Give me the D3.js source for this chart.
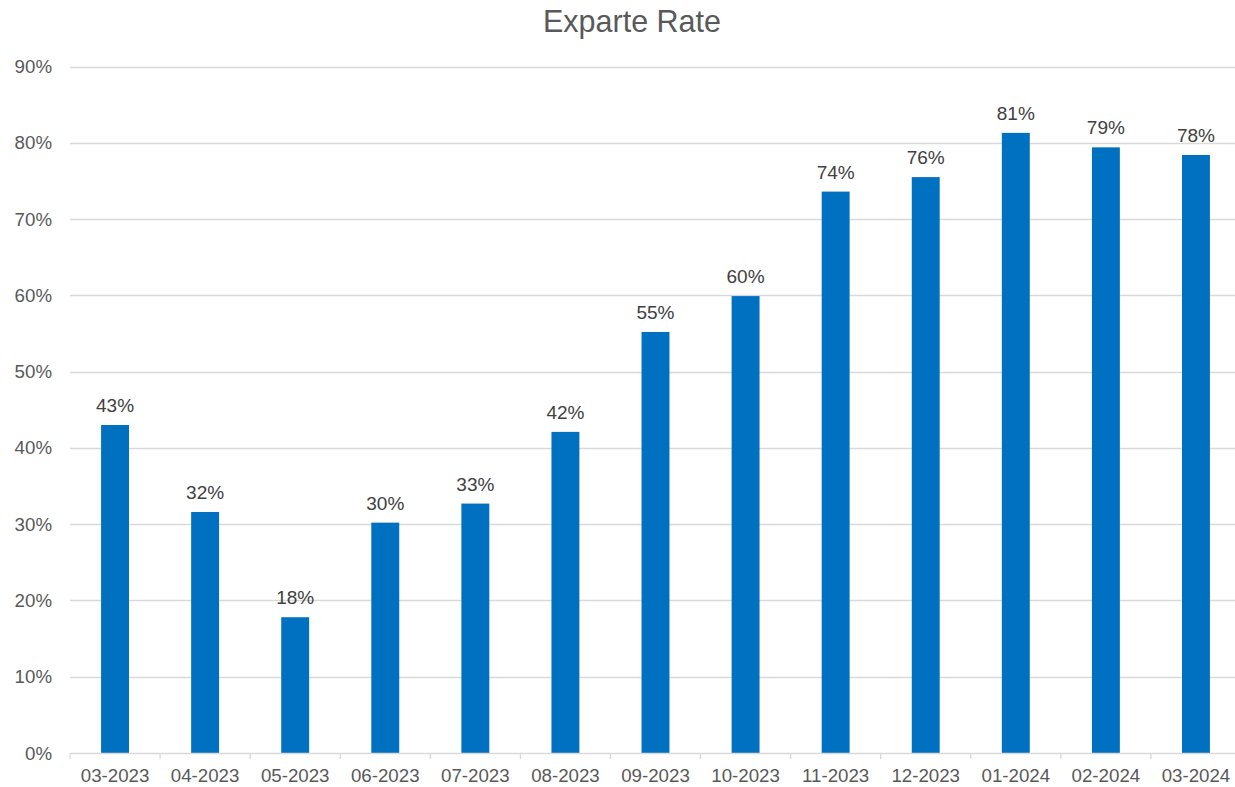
<!DOCTYPE html>
<html><head><meta charset="utf-8">
<script src="https://cdn.jsdelivr.net/npm/d3@7"></script>
<style>body{margin:0;background:#fff;} svg{display:block;font-family:Arial,"Liberation Sans",sans-serif;}</style>
</head><body>
<svg id="c" width="1235" height="787"></svg>
<script>
const categories = ["03-2023","04-2023","05-2023","06-2023","07-2023","08-2023","09-2023","10-2023","11-2023","12-2023","01-2024","02-2024","03-2024"];
const rates = [43.0, 31.6, 17.8, 30.2, 32.7, 42.1, 55.2, 59.9, 73.6, 75.5, 81.3, 79.4, 78.4];
const yTicks = [0,10,20,30,40,50,60,70,80,90];
const title = "Exparte Rate";

(function(){
const svg = d3.select("#c");
const pL = 70, pR = 1241, pT = 66.5, pB = 753;
const x = d3.scaleBand().domain(categories).range([pL, pR]).paddingInner(0.69).paddingOuter(0.345);
const xb = d3.scaleBand().domain(categories).range([pL, pR]);
const y = d3.scaleLinear().domain([0, 90]).range([pB, pT]);

svg.append("text").attr("x", 632).attr("y", 32).attr("text-anchor","middle")
  .attr("font-size", 30.5).attr("fill","#595959").text(title);

svg.append("g").selectAll("line").data(yTicks.filter(d=>d>0)).join("line")
  .attr("x1", pL).attr("x2", pR).attr("y1", d=>Math.round(y(d))+0.5).attr("y2", d=>Math.round(y(d))+0.5)
  .attr("stroke","#d9d9d9").attr("stroke-width",1.3);

svg.append("g").selectAll("text").data(yTicks).join("text")
  .attr("x", 52).attr("y", d=>y(d)+6.5).attr("text-anchor","end")
  .attr("font-size",18.7).attr("fill","#595959").text(d=>d+"%");

svg.append("g").selectAll("rect").data(rates).join("rect")
  .attr("x",(d,i)=>x(categories[i])).attr("width", x.bandwidth())
  .attr("y", d=>y(d)).attr("height", d=>pB - y(d)).attr("fill","#0070C0");

svg.append("g").selectAll("text").data(rates).join("text")
  .attr("x",(d,i)=>x(categories[i])+x.bandwidth()/2).attr("y", d=>y(d)-13)
  .attr("text-anchor","middle").attr("font-size",19).attr("fill","#404040")
  .text(d=>Math.round(d)+"%");

const xa = svg.append("g").attr("transform",`translate(0,${pB})`)
  .call(d3.axisBottom(xb).tickSize(0).tickPadding(16));
xa.select(".domain").attr("stroke","#d9d9d9").attr("stroke-width",1.5);
xa.selectAll("text").attr("font-size",18.7).attr("fill","#595959").attr("font-family","Arial, 'Liberation Sans', sans-serif");
svg.append("g").selectAll("line").data(d3.range(categories.length+1)).join("line")
  .attr("x1", i=> pL + i*xb.step()).attr("x2", i=> pL + i*xb.step())
  .attr("y1", pB).attr("y2", pB+6).attr("stroke","#d9d9d9").attr("stroke-width",1.3);
})();
</script>
</body></html>
